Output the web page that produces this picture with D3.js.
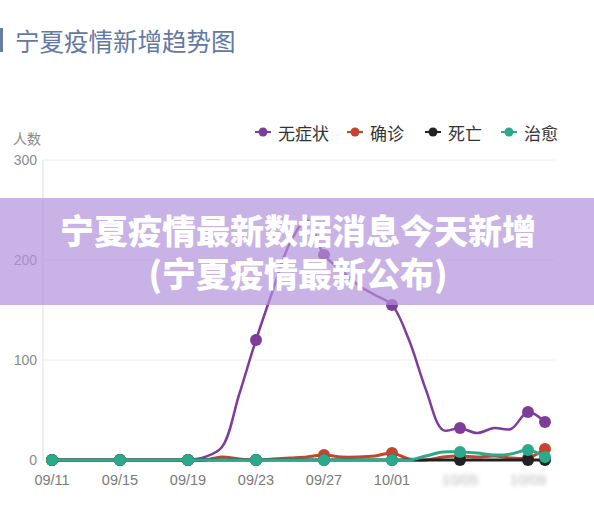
<!DOCTYPE html>
<html>
<head>
<meta charset="utf-8">
<script src="https://d3js.org/d3.v7.min.js"></script>
<style>
  html, body { margin: 0; padding: 0; background: #fff; }
  svg { display: block; font-family: "Noto Sans CJK SC", "Noto Sans", sans-serif; }
</style>
</head>
<body>
<div id="chart"></div>
<script>
// Daily values, 09/11 .. 10/10
const dates = [
  '09/11', '09/12', '09/13', '09/14', '09/15', '09/16', '09/17', '09/18', '09/19', '09/20',
  '09/21', '09/22', '09/23', '09/24', '09/25', '09/26', '09/27', '09/28', '09/29', '09/30',
  '10/01', '10/02', '10/03', '10/04', '10/05', '10/06', '10/07', '10/08', '10/09', '10/10'
];
const asymptomatic = [0, 0, 0, 0, 0, 0, 0, 0, 0, 3, 13, 65, 120, 170, 217, 240, 205, 190, 175, 165, 155, 120, 70, 30, 32, 27, 32, 31, 48, 38];
const confirmed    = [0, 0, 0, 0, 0, 0, 0, 0, 0, 0, 3, 1, 0, 1, 2, 3, 5, 3, 3, 4, 7, 1, 0, 3, 4, 3, 4, 2, 2, 11];
const deaths       = [0, 0, 0, 0, 0, 0, 0, 0, 0, 0, 0, 0, 0, 0, 0, 0, 0, 0, 0, 0, 0, 0, 0, 0, 0, 0, 0, 0, 0, 0];
const recovered    = [0, 0, 0, 0, 0, 0, 0, 0, 0, 0, 0, 0, 0, 0, 0, 0, 0, 0, 0, 0, 0, 0, 4, 8, 8, 7, 5, 6, 10, 3];
const xTickLabels = ['09/11', '09/15', '09/19', '09/23', '09/27', '10/01', '10/05', '10/09'];
const yTicks = [0, 100, 200, 300];
const seriesNames = ['无症状', '确诊', '死亡', '治愈'];

const width = 594, height = 505;
const colors = ['#7e3d9b', '#c4452b', '#222222', '#2aa98c'];
const seriesData = [asymptomatic, confirmed, deaths, recovered];

const svg = d3.select('#chart')
  .append('svg')
  .attr('width', width)
  .attr('height', height);

const defs = svg.append('defs');
defs.append('filter')
  .attr('id', 'blur')
  .attr('x', '-20%').attr('width', '140%')
  .append('feGaussianBlur')
  .attr('stdDeviation', 2.2);

// Title
svg.append('rect')
  .attr('x', 0).attr('y', 28).attr('width', 3).attr('height', 24)
  .attr('fill', '#6b7da3');
svg.append('text')
  .attr('x', 15).attr('y', 40)
  .attr('dominant-baseline', 'central')
  .attr('font-size', 24.5)
  .attr('fill', '#6378a3')
  .text('宁夏疫情新增趋势图');

// Scales
const x = d3.scalePoint().domain(dates).range([52, 545]);
const y = d3.scaleLinear().domain([0, 300]).range([460, 160]);

// Grid
svg.append('g')
  .selectAll('line')
  .data(yTicks.filter(d => d > 0))
  .join('line')
  .attr('x1', 43).attr('x2', 555)
  .attr('y1', d => y(d)).attr('y2', d => y(d))
  .attr('stroke', '#eeeeee');

svg.append('line')
  .attr('x1', 43).attr('x2', 43)
  .attr('y1', y(300)).attr('y2', y(0))
  .attr('stroke', '#dddddd');

// Y labels
svg.append('g')
  .selectAll('text')
  .data(yTicks)
  .join('text')
  .attr('x', 37)
  .attr('y', d => y(d))
  .attr('text-anchor', 'end')
  .attr('dominant-baseline', 'central')
  .attr('font-family', 'Liberation Sans, Arial, sans-serif')
  .attr('font-size', 14)
  .attr('fill', '#8a8a8a')
  .text(d => d);

svg.append('text')
  .attr('x', 13).attr('y', 138)
  .attr('dominant-baseline', 'central')
  .attr('font-size', 14)
  .attr('fill', '#888')
  .text('人数');

// X labels (the last two are blurred in the picture)
svg.append('g')
  .selectAll('text')
  .data(xTickLabels)
  .join('text')
  .attr('x', d => x(d))
  .attr('y', 480)
  .attr('text-anchor', 'middle')
  .attr('dominant-baseline', 'central')
  .attr('font-family', 'Liberation Sans, Arial, sans-serif')
  .attr('font-size', 14.5)
  .attr('fill', (d, i) => i >= 6 ? '#b8b8b8' : '#7a7a7a')
  .attr('filter', (d, i) => i >= 6 ? 'url(#blur)' : null)
  .text(d => d);

// Lines
const line = d3.line()
  .x((d, i) => x(dates[i]))
  .y(d => y(d))
  .curve(d3.curveCatmullRom.alpha(0.5));

const markerIdx = d3.range(dates.length).filter(i => i % 4 === 0 || i === dates.length - 1);

seriesData.forEach((values, s) => {
  const g = svg.append('g');
  g.append('path')
    .attr('d', line(values))
    .attr('fill', 'none')
    .attr('stroke', colors[s])
    .attr('stroke-width', s === 0 ? 2.5 : 3)
    .attr('stroke-linejoin', 'round');
  g.selectAll('circle')
    .data(markerIdx)
    .join('circle')
    .attr('cx', i => x(dates[i]))
    .attr('cy', i => y(values[i]))
    .attr('r', 6)
    .attr('fill', colors[s]);
});

// Legend
const legendX = [263, 355, 433, 509];
const legend = svg.append('g')
  .selectAll('g')
  .data(seriesNames)
  .join('g')
  .attr('transform', (d, i) => `translate(${legendX[i]}, 132)`);
legend.append('line')
  .attr('x1', -8).attr('x2', 8)
  .attr('stroke', (d, i) => colors[i])
  .attr('stroke-width', 2);
legend.append('circle')
  .attr('r', 4.5)
  .attr('fill', (d, i) => colors[i]);
legend.append('text')
  .attr('x', 15)
  .attr('dominant-baseline', 'central')
  .attr('font-size', 17)
  .attr('fill', '#333')
  .text(d => d);

// Overlay banner
svg.append('rect')
  .attr('x', 0).attr('y', 198)
  .attr('width', width).attr('height', 107)
  .attr('fill', 'rgb(178,146,218)')
  .attr('opacity', 0.7);

const bannerLines = ['宁夏疫情最新数据消息今天新增', '(宁夏疫情最新公布)'];
svg.append('g')
  .selectAll('text')
  .data(bannerLines)
  .join('text')
  .attr('x', 298)
  .attr('y', (d, i) => 229 + i * 43)
  .attr('text-anchor', 'middle')
  .attr('dominant-baseline', 'central')
  .attr('font-size', 34)
  .attr('font-weight', 900)
  .attr('fill', '#fff')
  .text(d => d);
</script>
</body>
</html>
